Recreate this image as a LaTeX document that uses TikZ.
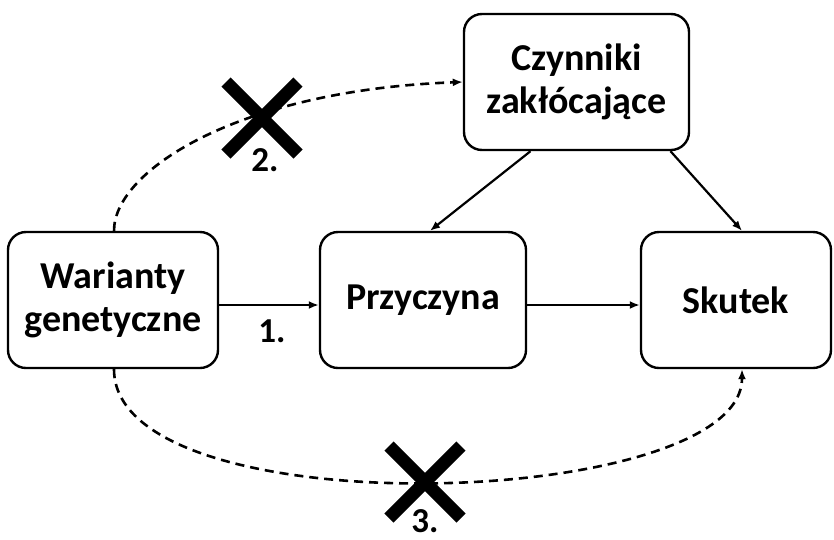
\documentclass[tikz,border=0pt]{standalone}
\usepackage{fontspec}
\setmainfont{Carlito}
\usetikzlibrary{arrows.meta}
\begin{document}
\begin{tikzpicture}[x=1pt,y=-1pt,
 box/.style={draw, line width=2.4pt, rounded corners=18pt, font=\bfseries\fontsize{38}{43}\selectfont, align=center, inner sep=0pt},
 conn/.style={line width=2.2pt, -{Latex[length=10pt,width=8pt]}},
 dconn/.style={conn, line width=2.6pt, dash pattern=on 9pt off 6pt},
 lbl/.style={font=\bfseries\fontsize{35}{35}\selectfont, inner sep=0pt},
 cross/.style={line width=13pt}
]
\useasboundingbox (0,0) rectangle (834,539);
\node[box, minimum width=210pt, minimum height=136pt] (w) at (113,300) {Warianty\\genetyczne};
\node[box, minimum width=206pt, minimum height=136pt] (p) at (423,300) {Przyczyna};
\node[box, minimum width=190pt, minimum height=136pt] (s) at (736,300) {Skutek};
\node[box, minimum width=225pt, minimum height=136pt] (c) at (576.5,82) {Czynniki\\zakłócające};

\draw[conn] ([yshift=-5pt]w.east) -- ([yshift=-5pt]p.west);
\draw[conn] ([yshift=-5pt]p.east) -- ([yshift=-5pt]s.west);
\draw[conn] ([xshift=-46pt]c.south) -- ([xshift=7pt]p.north);
\draw[conn] ([xshift=94pt]c.south) -- ([xshift=6pt]s.north);

\draw[dconn] ([xshift=1pt]w.north) .. controls (114,170) and (240,90) .. (c.west);
\draw[dconn] ([xshift=1pt]w.south) .. controls (114,530) and (742,510) .. ([xshift=6pt]s.south);

\draw[cross] (226,82) -- (298,154) (226,154) -- (298,82);
\draw[cross] (389,446) -- (461,518) (389,518) -- (461,446);

\node[lbl] (l1) at (272,331) {1.};
\node[lbl] (l2) at (265,160) {2.};
\node[lbl] (l3) at (425,521) {3.};
\end{tikzpicture}
\end{document}
